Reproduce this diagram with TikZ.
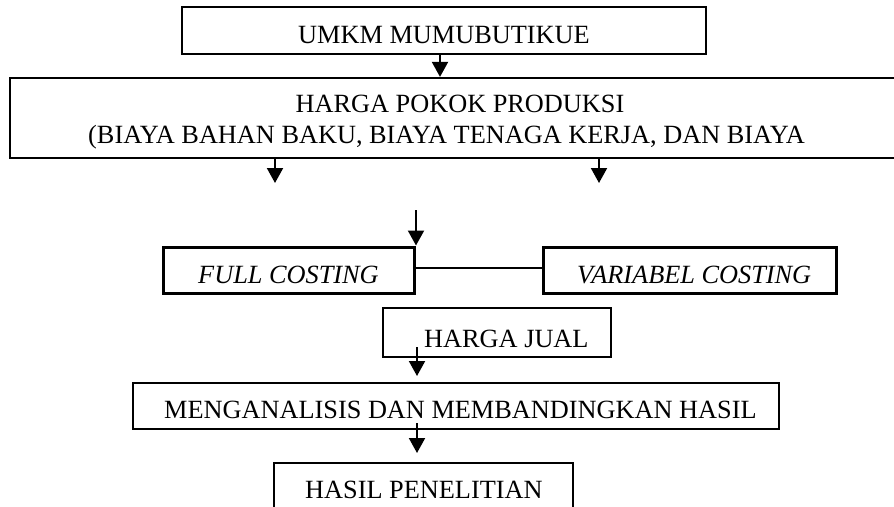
\documentclass[tikz,border=0pt]{standalone}
\usepackage{fontspec}
\setmainfont{Liberation Serif}
\usetikzlibrary{arrows.meta}
\tikzset{
  box/.style={draw, line width=2.2pt, inner sep=0pt, rectangle},
  thickbox/.style={box, line width=3pt},
  lbl/.style={inner sep=0pt, anchor=base west, font=\fontsize{26.3}{30}\selectfont},
  arr/.style={line width=2pt, -{Triangle[width=16pt,length=15pt]}},
  link/.style={line width=2pt}
}
\begin{document}
\begin{tikzpicture}[x=1pt,y=-1pt]
\useasboundingbox (0,0) rectangle (894,506);
\clip (0,0) rectangle (894,506);
% boxes
\node[box, minimum width=524pt, minimum height=47pt] (umkm) at (444,30.5) {};
\node[box, minimum width=900pt, minimum height=80pt] (hpp) at (460,118) {};
\node[thickbox, minimum width=251pt, minimum height=46pt] (full) at (288.5,270) {};
\node[thickbox, minimum width=293pt, minimum height=46pt] (var) at (689.5,270) {};
\node[box, minimum width=228pt, minimum height=49pt] (jual) at (497,332.5) {};
\node[box, minimum width=646pt, minimum height=46pt] (anal) at (456,406) {};
\node[box, minimum width=299pt, minimum height=70pt] (hasil) at (423.5,498) {};
% texts
\node[lbl] (tumkm) at (298,43) {UMKM MUMUBUTIKUE};
\node[lbl, anchor=base] (thpp1) at (460,112) {HARGA POKOK PRODUKSI};
\node[lbl] (thpp2) at (88,143) {(BIAYA BAHAN BAKU, BIAYA TENAGA KERJA, DAN BIAYA};
\node[lbl, font=\fontsize{26.3}{30}\selectfont\itshape] (tfull) at (198,283) {FULL COSTING};
\node[lbl, font=\fontsize{26.3}{30}\selectfont\itshape] (tvar) at (577,283) {VARIABEL COSTING};
\node[lbl] (tjual) at (424,347) {HARGA JUAL};
\node[lbl] (tanal) at (164,418) {MENGANALISIS DAN MEMBANDINGKAN HASIL};
\node[lbl] (thasil) at (305,498) {HASIL PENELITIAN};
% connectors
\coordinate (e1) at (275,183);
\coordinate (e2) at (599,183);
\coordinate (s3) at (416,210);
\coordinate (e4) at (417,376);
\coordinate (e5) at (417,453);
\draw[arr] (umkm.south -| 440,0) -- (hpp.north -| 440,0);
\draw[arr] (hpp.south -| e1) -- (e1);
\draw[arr] (hpp.south -| e2) -- (e2);
\draw[arr] (s3) -- (full.north -| s3);
\draw[link] (full.east |- 0,268) -- (var.west |- 0,268);
\draw[arr] (e4 |- 0,347) -- (e4);
\draw[arr] (e5 |- 0,423) -- (e5);
\end{tikzpicture}
\end{document}
